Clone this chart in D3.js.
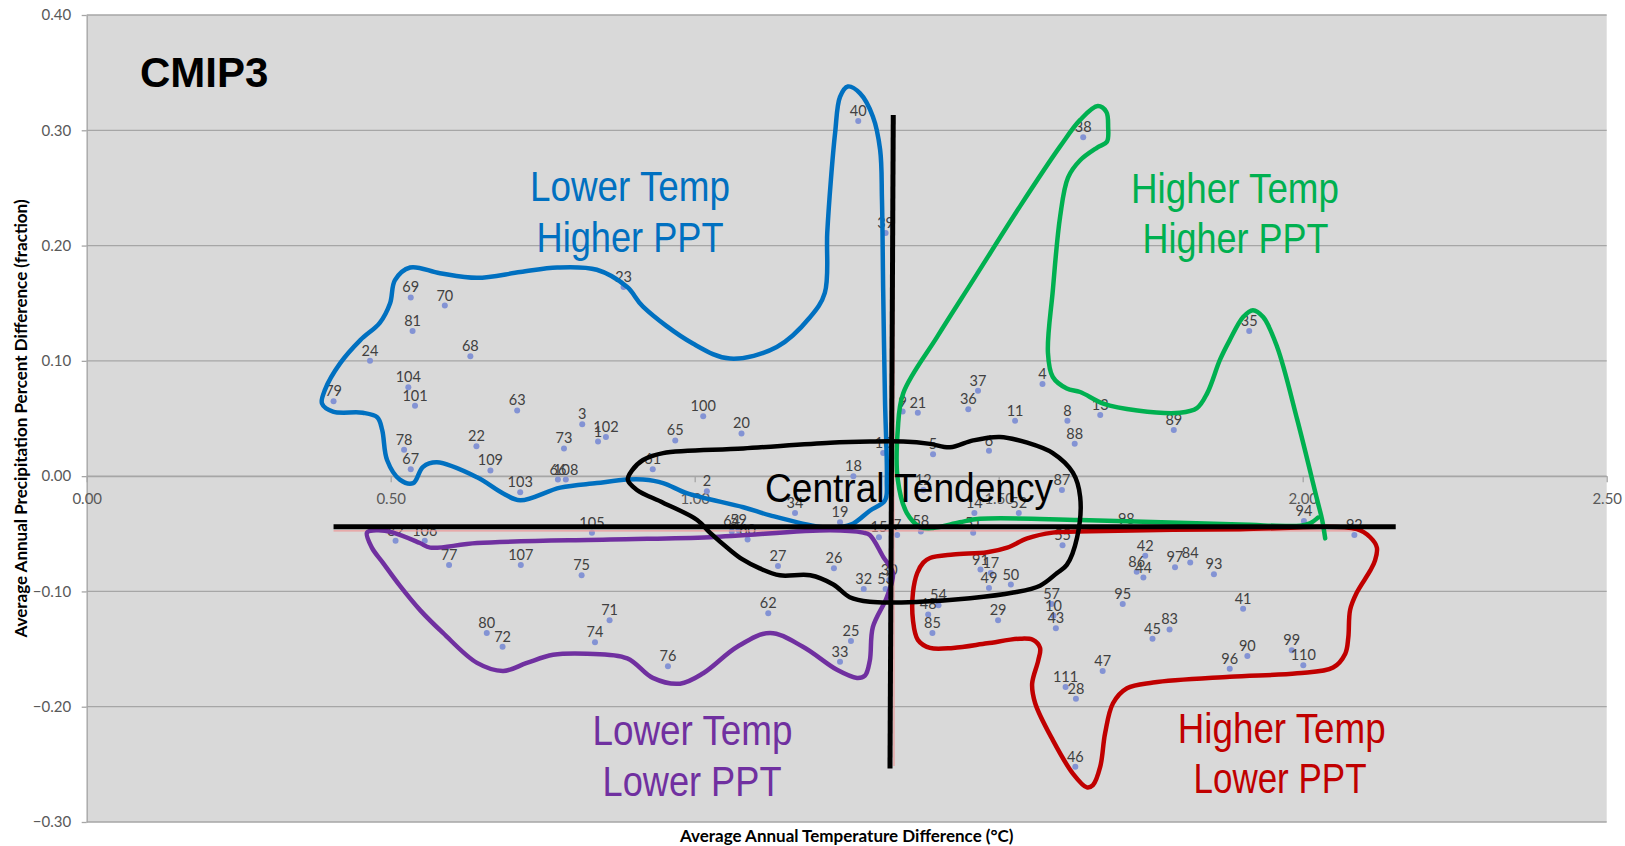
<!DOCTYPE html>
<html><head><meta charset="utf-8">
<script src="https://cdn.jsdelivr.net/npm/d3@7"></script>
<style>body{margin:0;background:#fff}svg{display:block}</style>
</head><body>
<svg id="c" width="1625" height="846"></svg>
<script>
// ---- data ----
const modelIds = ["69","81","24","104","79","101","78","67","82","70","68","63","3","1","102","73","22","109","103","66","108","65","100","20","61","2","34","105","106","64","59","60","77","107","75","27","80","72","71","74","76","62","26","32","53","30","25","33","54","48","85","29","49","50","91","17","57","10","43","95","86","44","97","84","93","45","83","47","111","28","46","96","41","90","99","110","9","21","36","37","4","11","8","13","89","88","16","5","6","18","87","12","14","52","19","15","7","58","51","55","98","42","92","94","35","38","40","39","23"];
const tempDiff = [0.533,0.536,0.466,0.529,0.406,0.540,0.522,0.533,0.508,0.589,0.631,0.708,0.815,0.841,0.854,0.785,0.641,0.664,0.713,0.775,0.788,0.968,1.014,1.077,0.931,1.020,1.165,0.831,0.556,1.061,1.072,1.087,0.596,0.714,0.814,1.137,0.658,0.684,0.860,0.836,0.956,1.121,1.229,1.278,1.314,1.320,1.257,1.239,1.401,1.384,1.391,1.499,1.484,1.520,1.470,1.487,1.587,1.590,1.594,1.704,1.727,1.738,1.790,1.815,1.854,1.753,1.781,1.671,1.610,1.627,1.626,1.880,1.902,1.909,1.982,2.001,1.342,1.367,1.450,1.466,1.572,1.527,1.613,1.667,1.788,1.625,1.310,1.392,1.484,1.261,1.604,1.376,1.460,1.533,1.239,1.303,1.333,1.372,1.458,1.605,1.710,1.741,2.085,2.002,1.912,1.639,1.269,1.314,0.883];
const pptDiff = [0.155,0.126,0.100,0.077,0.065,0.061,0.023,0.006,-0.056,0.148,0.104,0.057,0.045,0.030,0.034,0.024,0.026,0.005,-0.014,-0.003,-0.003,0.031,0.052,0.037,0.006,-0.013,-0.032,-0.049,-0.056,-0.048,-0.047,-0.055,-0.077,-0.077,-0.086,-0.078,-0.136,-0.148,-0.125,-0.144,-0.165,-0.119,-0.080,-0.098,-0.098,-0.090,-0.143,-0.161,-0.112,-0.120,-0.136,-0.125,-0.097,-0.094,-0.081,-0.084,-0.111,-0.121,-0.132,-0.111,-0.083,-0.088,-0.079,-0.075,-0.085,-0.141,-0.133,-0.169,-0.183,-0.193,-0.252,-0.167,-0.115,-0.156,-0.151,-0.164,0.056,0.055,0.058,0.074,0.080,0.048,0.048,0.053,0.040,0.028,0.020,0.019,0.022,0.000,-0.012,-0.012,-0.032,-0.032,-0.040,-0.053,-0.051,-0.048,-0.049,-0.060,-0.046,-0.069,-0.051,-0.039,0.126,0.294,0.308,0.211,0.164];

const xTicks = [0, 0.5, 1.0, 1.5, 2.0, 2.5];
const yTicks = [-0.3, -0.2, -0.1, 0.0, 0.1, 0.2, 0.3, 0.4];

// hand-drawn quadrant outlines, in data units [temp, ppt]
const blueOutline = [[0.387,0.063],[0.392,0.075],[0.417,0.098],[0.450,0.118],[0.482,0.133],[0.499,0.150],[0.507,0.170],[0.532,0.181],[0.581,0.176],[0.642,0.172],[0.713,0.177],[0.774,0.181],[0.839,0.179],[0.889,0.164],[0.915,0.147],[0.997,0.115],[1.058,0.102],[1.135,0.112],[1.190,0.138],[1.214,0.159],[1.218,0.211],[1.224,0.257],[1.231,0.298],[1.239,0.329],[1.252,0.338],[1.272,0.332],[1.293,0.312],[1.305,0.283],[1.308,0.240],[1.310,0.161],[1.313,0.066],[1.316,-0.003],[1.313,-0.021],[1.288,-0.030],[1.261,-0.041],[1.239,-0.044],[1.206,-0.044],[1.124,-0.034],[1.080,-0.027],[0.988,-0.015],[0.948,-0.006],[0.915,-0.003],[0.889,-0.003],[0.839,-0.006],[0.779,-0.010],[0.713,-0.021],[0.685,-0.015],[0.642,-0.001],[0.576,0.012],[0.553,0.008],[0.537,-0.006],[0.515,-0.003],[0.494,0.014],[0.486,0.040],[0.478,0.051],[0.454,0.055],[0.405,0.056]];
const purpleOutline = [[0.461,-0.049],[0.478,-0.047],[0.504,-0.049],[0.548,-0.058],[0.565,-0.062],[0.642,-0.058],[0.861,-0.055],[1.025,-0.053],[1.223,-0.047],[1.277,-0.049],[1.288,-0.051],[1.310,-0.070],[1.326,-0.084],[1.316,-0.105],[1.293,-0.131],[1.288,-0.160],[1.280,-0.173],[1.267,-0.175],[1.234,-0.168],[1.178,-0.148],[1.124,-0.136],[1.070,-0.148],[1.014,-0.171],[0.976,-0.180],[0.931,-0.175],[0.889,-0.158],[0.823,-0.154],[0.767,-0.155],[0.724,-0.162],[0.685,-0.169],[0.642,-0.162],[0.586,-0.136],[0.548,-0.116],[0.515,-0.095],[0.487,-0.075],[0.469,-0.062]];
const greenOutline = [[2.025,-0.036],[2.012,-0.041],[1.996,-0.043],[1.897,-0.042],[1.634,-0.038],[1.469,-0.037],[1.436,-0.040],[1.392,-0.045],[1.371,-0.044],[1.349,-0.032],[1.334,-0.003],[1.334,0.040],[1.343,0.072],[1.399,0.121],[1.458,0.170],[1.535,0.234],[1.601,0.286],[1.634,0.309],[1.663,0.321],[1.677,0.316],[1.680,0.303],[1.678,0.290],[1.662,0.285],[1.634,0.274],[1.614,0.259],[1.601,0.225],[1.589,0.161],[1.581,0.107],[1.589,0.086],[1.612,0.076],[1.634,0.073],[1.672,0.063],[1.728,0.057],[1.798,0.055],[1.826,0.059],[1.843,0.072],[1.864,0.101],[1.880,0.118],[1.902,0.138],[1.918,0.144],[1.935,0.138],[1.958,0.112],[1.991,0.049],[2.024,-0.021],[2.032,-0.038],[2.037,-0.054]];
const redOutline = [[1.376,-0.075],[1.387,-0.071],[1.425,-0.068],[1.481,-0.066],[1.514,-0.062],[1.547,-0.054],[1.589,-0.049],[1.629,-0.048],[1.897,-0.046],[2.089,-0.046],[2.111,-0.053],[2.122,-0.062],[2.119,-0.073],[2.111,-0.082],[2.089,-0.101],[2.078,-0.116],[2.075,-0.140],[2.070,-0.154],[2.050,-0.166],[1.991,-0.171],[1.880,-0.174],[1.754,-0.179],[1.711,-0.184],[1.688,-0.197],[1.675,-0.223],[1.667,-0.252],[1.655,-0.268],[1.645,-0.270],[1.622,-0.258],[1.589,-0.229],[1.560,-0.197],[1.555,-0.180],[1.565,-0.160],[1.568,-0.149],[1.556,-0.142],[1.535,-0.141],[1.481,-0.145],[1.425,-0.149],[1.387,-0.149],[1.367,-0.142],[1.359,-0.125],[1.359,-0.101],[1.366,-0.084]];
const blackOutline = [[0.897,0.005],[0.915,0.014],[0.948,0.020],[1.080,0.024],[1.223,0.029],[1.288,0.030],[1.343,0.030],[1.387,0.028],[1.420,0.025],[1.458,0.031],[1.502,0.034],[1.547,0.029],[1.589,0.020],[1.622,0.003],[1.634,-0.018],[1.629,-0.053],[1.612,-0.077],[1.596,-0.084],[1.568,-0.095],[1.524,-0.101],[1.453,-0.106],[1.371,-0.109],[1.288,-0.109],[1.255,-0.105],[1.228,-0.094],[1.190,-0.086],[1.140,-0.086],[1.107,-0.080],[1.078,-0.072],[1.058,-0.064],[1.025,-0.049],[1.004,-0.038],[0.948,-0.023],[0.905,-0.012],[0.890,-0.003]];
// cross lines (hand-drawn) and mean lines
const crossH = [[0.406,-0.0439],[2.153,-0.0439]];
const crossV = [[1.3266,0.3132],[1.3212,-0.2535]];
const meanH = [[0.406,-0.0474],[2.085,-0.0474]];
const meanV = [[1.3278,0.308],[1.3278,-0.2515]];

// ---- chart ----
const svg = d3.select('#c');
const x = d3.scaleLinear().domain([0, 2.5]).range([86.7, 1606.7]);
const y = d3.scaleLinear().domain([-0.3, 0.4]).range([822, 15]);
const NUM = "Lato, 'Open Sans', sans-serif";

svg.append('rect').attr('width',1625).attr('height',846).attr('fill','#fff');
svg.append('rect').attr('x',x(0)).attr('y',y(0.4)).attr('width',x(2.5)-x(0)).attr('height',y(-0.3)-y(0.4)).attr('fill','#d9d9d9');

// gridlines
svg.append('g').selectAll('line').data(yTicks).join('line')
  .attr('x1',x(0)).attr('x2',x(2.5)).attr('y1',d=>y(d)).attr('y2',d=>y(d))
  .attr('stroke','#a6a6a6').attr('stroke-width',1.3);

// y axis
const ya = svg.append('g').attr('transform',`translate(${x(0)},0)`)
  .call(d3.axisLeft(y).tickValues(yTicks).tickFormat(d3.format('.2f')).tickSize(5).tickSizeOuter(0).tickPadding(10.5));
// x axis at y=0
const xa = svg.append('g').attr('transform',`translate(0,${y(0)})`)
  .call(d3.axisBottom(x).tickValues(xTicks).tickFormat(d3.format('.2f')).tickSize(6).tickSizeOuter(0).tickPadding(11));
[ya, xa].forEach(g=>{
  g.select('.domain').attr('stroke','#a6a6a6').attr('stroke-width',1.3);
  g.selectAll('.tick line').attr('stroke','#a6a6a6').attr('stroke-width',1.3);
  g.selectAll('.tick text').attr('fill','#595959').style('font-family',NUM).style('font-size','15px');
});

// axis titles
svg.append('text').attr('x',(x(0)+x(2.5))/2).attr('y',842).attr('text-anchor','middle')
  .style('font-family',NUM).style('font-weight','bold').style('font-size','17px').attr('fill','#000')
  .text('Average Annual Temperature Difference (°C)');
svg.append('text').attr('transform',`translate(27,${(y(0.4)+y(-0.3))/2}) rotate(-90)`).attr('text-anchor','middle')
  .style('font-family',NUM).style('font-weight','bold').style('font-size','17px').attr('fill','#000')
  .text('Average Annual Precipitation Percent Difference (fraction)');

// points
const pts = modelIds.map((id,i)=>({id, t:tempDiff[i], p:pptDiff[i]}));
const pg = svg.append('g');
pg.selectAll('circle').data(pts).join('circle')
  .attr('cx',d=>x(d.t)).attr('cy',d=>y(d.p)).attr('r',3).attr('fill','#8393d4');
pg.selectAll('text').data(pts).join('text')
  .attr('x',d=>x(d.t)).attr('y',d=>y(d.p)-5).attr('text-anchor','middle')
  .style('font-family',NUM).style('font-size','14.5px').attr('fill','#404040')
  .text(d=>d.id);

// mean lines (thin)
const ln = d3.line().x(d=>x(d[0])).y(d=>y(d[1]));
[meanH, meanV].forEach(s=>svg.append('path').attr('d',ln(s)).attr('stroke','#ec9a9a').attr('stroke-width',1.2).attr('fill','none'));

// outlines
const closed = d3.line().x(d=>x(d[0])).y(d=>y(d[1])).curve(d3.curveCatmullRomClosed.alpha(0.5));
const open = d3.line().x(d=>x(d[0])).y(d=>y(d[1])).curve(d3.curveCatmullRom.alpha(0.5));
const outl = (d,c)=>svg.append('path').attr('d',d).attr('fill','none').attr('stroke',c)
  .attr('stroke-width',4.5).attr('stroke-linejoin','round').attr('stroke-linecap','round');
outl(closed(blueOutline),'#0070c0');
outl(closed(purpleOutline),'#7030a0');
outl(closed(redOutline),'#c00000');
outl(open(greenOutline),'#00b050');
outl(closed(blackOutline),'#000');

// black cross
[crossH, crossV].forEach(s=>svg.append('path').attr('d',ln(s)).attr('stroke','#000').attr('stroke-width',5).attr('fill','none'));

// title
svg.append('text').attr('x',140).attr('y',87).style('font-family',"'Liberation Sans', Arial, sans-serif")
  .style('font-weight','bold').style('font-size','42px').attr('fill','#000').text('CMIP3');

// quadrant labels
const NARROW = "'Liberation Sans Narrow', 'Arial Narrow', 'Liberation Sans', sans-serif";
function qlabel(txt, color, cx, bl, w, size){
  svg.append('text').attr('x',cx).attr('y',bl).attr('text-anchor','middle')
    .attr('textLength',w).attr('lengthAdjust','spacingAndGlyphs')
    .style('font-family',NARROW).style('font-size',size+'px').attr('fill',color).text(txt);
}
qlabel('Lower Temp','#0070c0',630,201,200,42);
qlabel('Higher PPT','#0070c0',630,252,187,42);
qlabel('Higher Temp','#00b050',1235,203,208,42);
qlabel('Higher PPT','#00b050',1235.5,253,186,42);
qlabel('Lower Temp','#7030a0',692.5,745,200,42);
qlabel('Lower PPT','#7030a0',692,796,179,42);
qlabel('Higher Temp','#c00000',1281.7,743,208,42);
qlabel('Lower PPT','#c00000',1280,793,173,42);
qlabel('Central Tendency','#000',909,502,288,40);
</script>
</body></html>
